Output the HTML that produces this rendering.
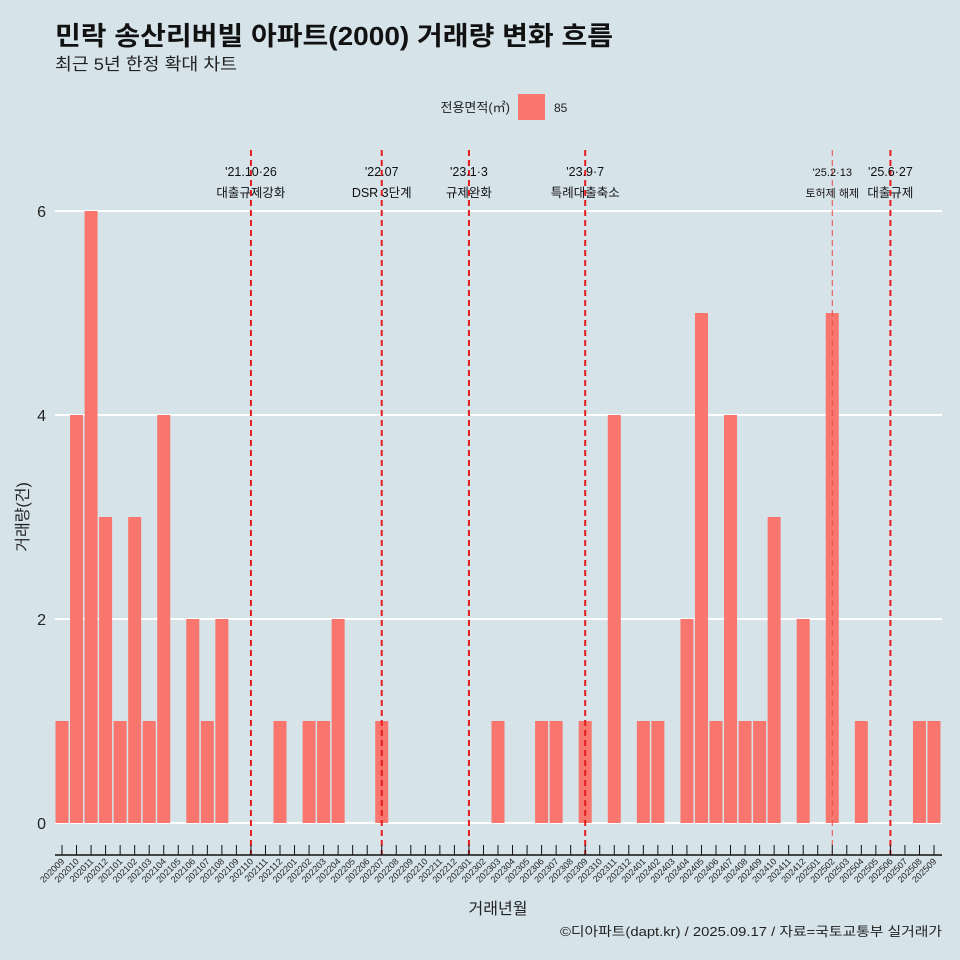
<!DOCTYPE html>
<html><head><meta charset="utf-8"><style>
body{margin:0;background:#d6e4ea;}
svg{display:block;font-family:"Liberation Sans","Noto Sans CJK KR",sans-serif;}
</style></head><body>
<svg id="c" width="960" height="960" viewBox="0 0 960 960">
<rect width="960" height="960" fill="#d6e4ea"/>
<text x="55" y="45" font-size="26" font-weight="bold" fill="#111" textLength="558" lengthAdjust="spacingAndGlyphs">민락 송산리버빌 아파트(2000) 거래량 변화 흐름</text>
<text x="55" y="70" font-size="17" fill="#222" textLength="182" lengthAdjust="spacingAndGlyphs">최근 5년 한정 확대 차트</text>
<g>
<text x="510" y="112" font-size="13" text-anchor="end" fill="#222">전용면적(㎡)</text>
<rect x="518" y="94" width="27" height="26" fill="#f8766d"/>
<text x="554" y="112" font-size="12" fill="#222">85</text>
</g>
<g id="grid"></g><g id="bars"></g><g id="events"></g><g id="xaxis"></g>
<text x="28" y="517" font-size="16" fill="#222" text-anchor="middle" transform="rotate(-90 28 517)">거래량(건)</text>
<text x="498" y="914" font-size="16" fill="#222" text-anchor="middle">거래년월</text>
<text x="560" y="936" font-size="13" fill="#222" textLength="382" lengthAdjust="spacingAndGlyphs">©디아파트(dapt.kr) / 2025.09.17 / 자료=국토교통부 실거래가</text>
</svg>
<script>
const months=["202009","202010","202011","202012","202101","202102","202103","202104","202105","202106","202107","202108","202109","202110","202111","202112","202201","202202","202203","202204","202205","202206","202207","202208","202209","202210","202211","202212","202301","202302","202303","202304","202305","202306","202307","202308","202309","202310","202311","202312","202401","202402","202403","202404","202405","202406","202407","202408","202409","202410","202411","202412","202501","202502","202503","202504","202505","202506","202507","202508","202509"];
const counts=[1,4,6,3,1,3,1,4,0,2,1,2,0,0,0,1,0,1,1,2,0,0,1,0,0,0,0,0,0,0,1,0,0,1,1,0,1,0,4,0,1,1,0,2,5,1,4,1,1,3,0,2,0,5,0,1,0,0,0,1,1];
const yTicks=[0,2,4,6];
const eventMonths=["202110","202207","202301","202309","202502","202506"];
const eventDates=["'21.10·26","'22.07","'23.1·3","'23.9·7","'25.2·13","'25.6·27"];
const eventLabels=["대출규제강화","DSR 3단계","규제완화","특례대출축소","토허제 해제","대출규제"];
const NS="http://www.w3.org/2000/svg";
const x0=62,step=(934-62)/60,bw=13;
const xs=i=>x0+i*step;
const ys=v=>823-v*102;
function mk(t,a,p){const e=document.createElementNS(NS,t);for(const k in a)e.setAttribute(k,a[k]);p.appendChild(e);return e;}
const grid=document.getElementById('grid');
yTicks.forEach(v=>{
 const l=mk('line',{x1:55,x2:942,y1:ys(v),y2:ys(v),stroke:'#fff','stroke-width':2},grid);
 
 
 const t=mk('text',{x:46,y:ys(v)+6,'font-size':16,'text-anchor':'end',fill:'#222'},grid);
 t.textContent=v;
 
 
});
const bars=document.getElementById('bars');
counts.forEach((v,i)=>{
 if(v<=0)return;
 const r=mk('rect',{x:xs(i)-bw/2,y:ys(v),width:bw,height:ys(0)-ys(v),fill:'#f8766d'},bars);
 
 
});
const ev=document.getElementById('events');
eventMonths.forEach((m,k)=>{
 const i=months.indexOf(m);const x=xs(i);const thin=(m==="202502");
 const l=mk('line',{x1:x,x2:x,y1:150,y2:855,stroke:thin?'#f04848':'#e51c1c','stroke-width':thin?1:2,'stroke-dasharray':'6 4'},ev);
 
 
 const fs=thin?11:12.5;
 const t1=mk('text',{x:x,y:176,'font-size':fs,'text-anchor':'middle',fill:'#111'},ev);
 t1.textContent=eventDates[k];
 
 
 const t2=mk('text',{x:x,y:197,'font-size':fs,'text-anchor':'middle',fill:'#111'},ev);
 t2.textContent=eventLabels[k];
 
 
});
const xa=document.getElementById('xaxis');
const al=mk('line',{x1:55,x2:942,y1:855,y2:855,stroke:'#111','stroke-width':1.5},xa);


months.forEach((m,i)=>{
 const x=xs(i);
 const tk=mk('line',{x1:x,x2:x,y1:845,y2:855,stroke:'#111','stroke-width':1},xa);
 
 
 const t=mk('text',{x:x+3,y:862,'font-size':9,'text-anchor':'end',fill:'#222',transform:`rotate(-45 ${x+3} 862)`},xa);
 t.textContent=m;
 
 
});
</script>
</body></html>
